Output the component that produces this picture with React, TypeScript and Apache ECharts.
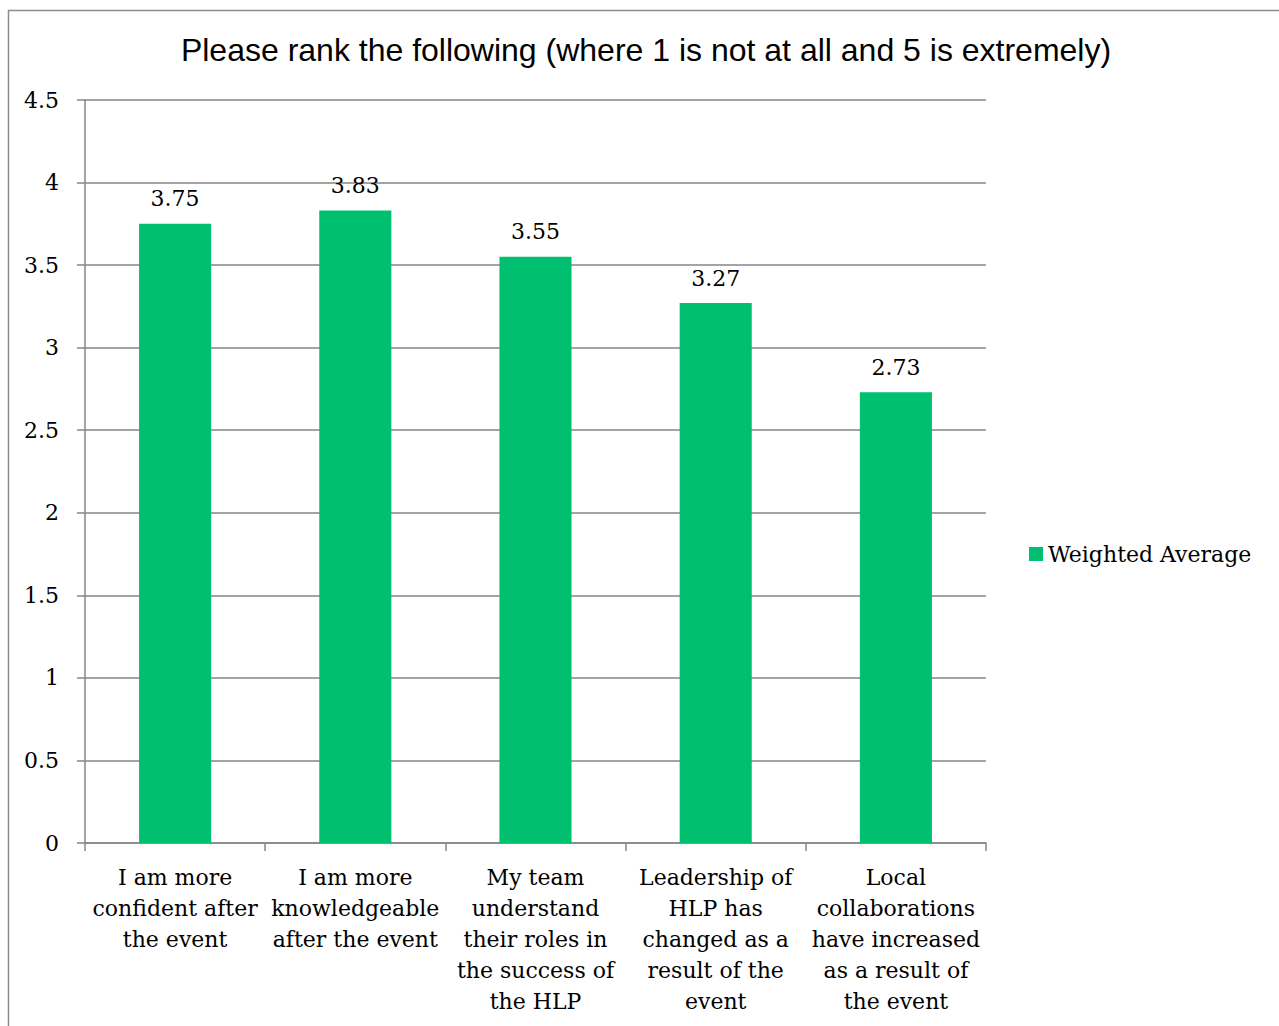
import React, { useEffect, useRef } from "react";
import * as echarts from "echarts";

const titleText = "Please rank the following (where 1 is not at all and 5 is extremely)";
const categories = [
  "I am more\nconfident after\nthe event",
  "I am more\nknowledgeable\nafter the event",
  "My team\nunderstand\ntheir roles in\nthe success of\nthe HLP",
  "Leadership of\nHLP has\nchanged as a\nresult of the\nevent",
  "Local\ncollaborations\nhave increased\nas a result of\nthe event",
];
const seriesName = "Weighted Average";
const values = [3.75, 3.83, 3.55, 3.27, 2.73];
const yMin = 0;
const yMax = 4.5;
const yInterval = 0.5;

const SERIF = "'DejaVu Serif', serif";
const GRAY = "#868686";
const GREEN = "#00BF6F";

export default function App() {
  const ref = useRef<HTMLDivElement>(null);
  useEffect(() => {
    if (!ref.current) return;
    const chart = echarts.init(ref.current, null, { renderer: "svg" });
    chart.setOption({
      animation: false,
      backgroundColor: "#fff",
      graphic: [
        {
          type: "rect",
          shape: { x: 8.5, y: 10.5, width: 1400, height: 1200 },
          style: { fill: "none", stroke: "#8c8c8c", lineWidth: 1.5 },
          silent: true,
        },
        {
          type: "text",
          x: 646,
          y: 50,
          style: {
            text: titleText,
            font: "32px 'Liberation Sans', Arial, sans-serif",
            fill: "#000",
            textAlign: "center",
            textVerticalAlign: "middle",
          },
        },
      ],
      legend: {
        show: true,
        orient: "vertical",
        left: 1024,
        top: 538,
        icon: "rect",
        itemWidth: 14,
        itemHeight: 14,
        textStyle: { fontFamily: SERIF, fontSize: 22, color: "#000" },
        data: [seriesName],
      },
      grid: { left: 85, right: 293, top: 100, bottom: 183, containLabel: false },
      xAxis: {
        type: "category",
        data: categories,
        axisLine: { lineStyle: { color: GRAY, width: 1.5 } },
        axisTick: { show: true, length: 8, lineStyle: { color: GRAY, width: 1.5 } },
        axisLabel: {
          interval: 0,
          margin: 19,
          fontFamily: SERIF,
          fontSize: 22,
          lineHeight: 31,
          color: "#000",
          align: "center",
        },
      },
      yAxis: {
        type: "value",
        min: yMin,
        max: yMax,
        interval: yInterval,
        axisLine: { show: true, lineStyle: { color: GRAY, width: 1.5 } },
        axisTick: { show: true, length: 8, lineStyle: { color: GRAY, width: 1.5 } },
        splitLine: { show: true, lineStyle: { color: GRAY, width: 1.5 } },
        axisLabel: {
          margin: 26,
          fontFamily: SERIF,
          fontSize: 22,
          color: "#000",
        },
      },
      series: [
        {
          name: seriesName,
          type: "bar",
          data: values,
          barWidth: "40%",
          itemStyle: { color: GREEN },
          label: {
            show: true,
            position: "top",
            distance: 14,
            fontFamily: SERIF,
            fontSize: 22,
            color: "#000",
            formatter: (p: any) => p.value.toFixed(2),
          },
        },
      ],
    });
    return () => chart.dispose();
  }, []);
  return (
    <div
      ref={ref}
      style={{ position: "absolute", left: 0, top: 0, width: 1279, height: 1026 }}
    />
  );
}
